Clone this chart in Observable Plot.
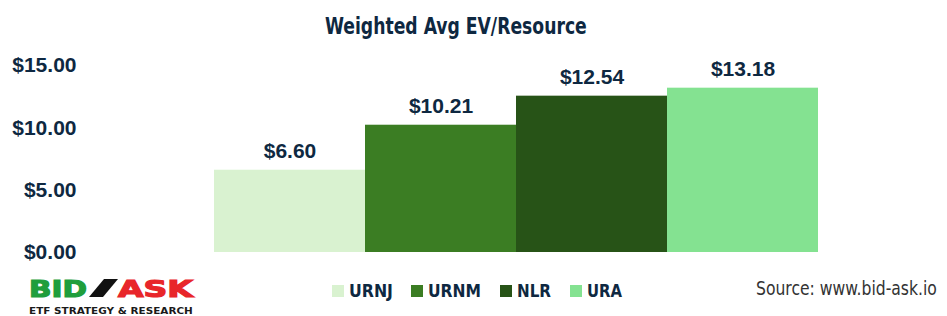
<!DOCTYPE html>
<html>
<head>
<meta charset="utf-8">
<script src="https://cdn.jsdelivr.net/npm/d3@7"></script>
<script src="https://cdn.jsdelivr.net/npm/@observablehq/plot@0.6"></script>
<style>
  html, body { margin: 0; padding: 0; background: #fff; }
  #wrap { position: relative; width: 947px; height: 316px; overflow: hidden; }
  #wrap > svg { position: absolute; left: 0; top: 0; }
</style>
</head>
<body>
<div id="wrap"></div>
<script>
const categories = ["URNJ", "URNM", "NLR", "URA"];
const values = [6.60, 10.21, 12.54, 13.18];
const valueLabels = ["$6.60", "$10.21", "$12.54", "$13.18"];
const colors = ["#d9f2d0", "#3b7d23", "#275317", "#84e291"];
const yTicks = [0, 5, 10, 15];
const titleText = "Weighted Avg EV/Resource";
const sourceText = "Source: www.bid-ask.io";

const navy = "#0e2841";
const data = categories.map((c, i) => ({cat: c, value: values[i], label: valueLabels[i]}));

const chart = Plot.plot({
  width: 947,
  height: 316,
  marginTop: 65,
  marginBottom: 64,
  marginLeft: 213,
  marginRight: 128,
  style: {background: "transparent"},
  x: {domain: categories, padding: 0, axis: null},
  y: {domain: [0, 15], axis: null},
  color: {domain: categories, range: colors},
  marks: [
    Plot.barY(data, {x: "cat", y: "value", fill: "cat", inset: 0}),
    Plot.axisY({
      ticks: yTicks,
      tickFormat: d => "$" + d.toFixed(2),
      tickSize: 0,
      tickPadding: 137,
      label: null,
      fontSize: 21,
      fontWeight: "bold",
      fontFamily: "Liberation Sans, Arial, sans-serif",
      fill: navy
    }),
    Plot.text(data, {
      x: "cat", y: "value", text: "label", dy: -19,
      fontSize: 21, fontWeight: "bold",
      fontFamily: "Liberation Sans, Arial, sans-serif",
      fill: navy
    })
  ]
});
document.getElementById("wrap").appendChild(chart);

// overlay: title, legend, source, logo
const ov = d3.select("#wrap").append("svg")
  .attr("width", 947).attr("height", 316)
  .style("pointer-events", "none");

const condensed = "'DejaVu Sans Condensed', 'Liberation Sans', sans-serif";

// helper: draw text horizontally scaled to a target width
function fitText(parent, x, y, w, attrs, str) {
  const g = parent.append("g");
  const t = g.append("text").attr("x", 0).attr("y", 0);
  for (const k in attrs) t.attr(k, attrs[k]);
  t.text(str);
  const len = t.node().getComputedTextLength() || w;
  const s = w / len;
  g.attr("transform", `translate(${x},${y}) scale(${s},1)`);
  return t;
}

fitText(ov, 325, 34, 262, {
  "font-family": condensed, "font-weight": "bold", "font-size": 23, fill: navy
}, titleText);

// legend
const legendSquareX = [332, 411, 500, 570];
const legendTextW = [44, 53, 34, 35];
categories.forEach((c, i) => {
  ov.append("rect")
    .attr("x", legendSquareX[i]).attr("y", 285)
    .attr("width", 12).attr("height", 12)
    .attr("fill", colors[i]);
  fitText(ov, legendSquareX[i] + 17, 297, legendTextW[i], {
    "font-family": condensed, "font-weight": "bold", "font-size": 18, fill: navy
  }, c);
});

// source
fitText(ov, 756, 295, 181, {
  "font-family": condensed, "font-size": 20, fill: "#333"
}, sourceText);

// logo
const logo = ov.append("g");
fitText(logo, 29, 297, 58, {
  "font-family": "'DejaVu Sans', sans-serif", "font-weight": "bold", "font-size": 23.5,
  stroke: "#1f9e3c", "stroke-width": 1.2, fill: "#1f9e3c"
}, "BID");
logo.append("path")
  .attr("d", "M104,279 L118,279 L103,297 L89,297 Z")
  .attr("fill", "#111");
fitText(logo, 118, 297, 75, {
  "font-family": "'DejaVu Sans', sans-serif", "font-weight": "bold", "font-size": 23.5,
  stroke: "#e8262a", "stroke-width": 1.2, fill: "#e8262a"
}, "ASK");
fitText(logo, 29, 313.5, 164, {
  "font-family": "'DejaVu Sans', sans-serif", "font-weight": "bold", "font-size": 8.5,
  fill: "#1a1a1a"
}, "ETF STRATEGY & RESEARCH");
</script>
</body>
</html>
